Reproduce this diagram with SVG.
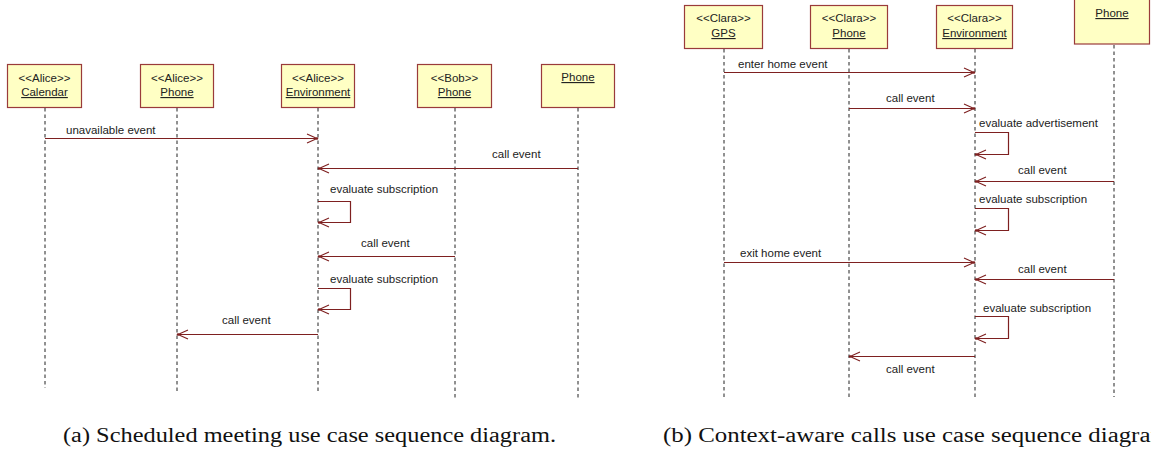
<svg xmlns="http://www.w3.org/2000/svg" width="1151" height="462" viewBox="0 0 1151 462">
<defs>
<style>
.box{fill:#FFFFC4;stroke:#9A3B3B;stroke-width:1.2}
.t{font-family:"Liberation Sans",Arial,sans-serif;font-size:11.5px;fill:#222;text-anchor:middle}
.u{text-decoration:underline}
.lbl{font-family:"Liberation Sans",Arial,sans-serif;font-size:11.5px;fill:#222}
.life{stroke:#222;stroke-width:1;stroke-dasharray:3.5,3;fill:none}
.msg{stroke:#7E2020;stroke-width:1.2;fill:none;marker-end:url(#ah)}
.cap{font-family:"Liberation Serif","Times New Roman",serif;font-size:20px;fill:#111}
</style>
<marker id="ah" viewBox="-11 -6 13 12" markerWidth="13" markerHeight="12" refX="0" refY="0" orient="auto" markerUnits="userSpaceOnUse">
<path d="M-10,-4.5 L0,0 L-10,4.5" fill="none" stroke="#7E2020" stroke-width="1.1"/>
<circle cx="0" cy="0" r="1.2" fill="#7E2020"/>
</marker>
</defs>
<rect width="1151" height="462" fill="#fff"/>

<!-- Left diagram nodes -->
<g id="a-calendar">
<rect class="box" x="7.5" y="64.5" width="74" height="43"/>
<text class="t" x="44.5" y="82">&lt;&lt;Alice&gt;&gt;</text>
<text class="t u" x="44.5" y="96">Calendar</text>
<line class="life" x1="45" y1="108" x2="45" y2="388"/>
</g>
<g id="a-alicephone">
<rect class="box" x="140.5" y="64.5" width="73" height="43"/>
<text class="t" x="177" y="82">&lt;&lt;Alice&gt;&gt;</text>
<text class="t u" x="177" y="96">Phone</text>
<line class="life" x1="177" y1="108" x2="177" y2="393"/>
</g>
<g id="a-environment">
<rect class="box" x="281.5" y="64.5" width="73" height="43"/>
<text class="t" x="318" y="82">&lt;&lt;Alice&gt;&gt;</text>
<text class="t u" x="318" y="96">Environment</text>
<line class="life" x1="318" y1="108" x2="318" y2="393"/>
</g>
<g id="a-bobphone">
<rect class="box" x="417.5" y="64.5" width="74" height="43"/>
<text class="t" x="454.5" y="82">&lt;&lt;Bob&gt;&gt;</text>
<text class="t u" x="454.5" y="96">Phone</text>
<line class="life" x1="455" y1="108" x2="455" y2="398"/>
</g>
<g id="a-phone">
<rect class="box" x="541.5" y="64.5" width="73" height="43"/>
<text class="t u" x="578" y="81">Phone</text>
<line class="life" x1="578" y1="108" x2="578" y2="398"/>
</g>

<!-- Right diagram nodes -->
<g id="b-gps">
<rect class="box" x="684.5" y="5.5" width="78" height="43"/>
<text class="t" x="723.5" y="22">&lt;&lt;Clara&gt;&gt;</text>
<text class="t u" x="723.5" y="37">GPS</text>
<line class="life" x1="724" y1="49" x2="724" y2="397"/>
</g>
<g id="b-clarephone">
<rect class="box" x="810.5" y="5.5" width="77" height="43"/>
<text class="t" x="849" y="22">&lt;&lt;Clara&gt;&gt;</text>
<text class="t u" x="849" y="37">Phone</text>
<line class="life" x1="849" y1="49" x2="849" y2="397"/>
</g>
<g id="b-environment">
<rect class="box" x="936.5" y="5.5" width="76" height="43"/>
<text class="t" x="974.5" y="22">&lt;&lt;Clara&gt;&gt;</text>
<text class="t u" x="974.5" y="37">Environment</text>
<line class="life" x1="975" y1="49" x2="975" y2="397"/>
</g>
<g id="b-phone">
<rect class="box" x="1074.5" y="-2" width="75" height="46"/>
<text class="t u" x="1112" y="17">Phone</text>
<line class="life" x1="1114" y1="45" x2="1114" y2="397"/>
</g>

<!-- Connectors -->
<g id="connectors">
<path class="msg" d="M45,138.5 H317"/>
<text class="lbl" x="66" y="134">unavailable event</text>
<path class="msg" d="M578,168.5 H319"/>
<text class="lbl" x="492" y="158">call event</text>
<text class="lbl" x="330" y="193">evaluate subscription</text>
<path class="msg" d="M318,201.5 H350.5 V222.5 H319"/>
<path class="msg" d="M455,256.5 H319"/>
<text class="lbl" x="361" y="247">call event</text>
<text class="lbl" x="330" y="283">evaluate subscription</text>
<path class="msg" d="M318,288.5 H350.5 V309.5 H319"/>
<path class="msg" d="M318,334.5 H178"/>
<text class="lbl" x="222" y="324">call event</text>

<path class="msg" d="M724,72.5 H974"/>
<text class="lbl" x="738" y="68">enter home event</text>
<path class="msg" d="M849,108.5 H974"/>
<text class="lbl" x="886" y="102">call event</text>
<text class="lbl" x="979" y="127">evaluate advertisement</text>
<path class="msg" d="M975,132.5 H1008.5 V154.5 H976"/>
<path class="msg" d="M1114,181.5 H976"/>
<text class="lbl" x="1018" y="174">call event</text>
<text class="lbl" x="979" y="203">evaluate subscription</text>
<path class="msg" d="M975,208.5 H1008.5 V230.5 H976"/>
<path class="msg" d="M724,262.5 H974"/>
<text class="lbl" x="740" y="257">exit home event</text>
<path class="msg" d="M1114,279.5 H976"/>
<text class="lbl" x="1018" y="273">call event</text>
<text class="lbl" x="983" y="312">evaluate subscription</text>
<path class="msg" d="M975,316.5 H1008.5 V338.5 H976"/>
<path class="msg" d="M975,356.5 H850"/>
<text class="lbl" x="886" y="373">call event</text>
</g>

<!-- Captions -->
<text class="cap" x="63" y="442" textLength="493" lengthAdjust="spacingAndGlyphs">(a) Scheduled meeting use case sequence diagram.</text>
<text class="cap" x="663" y="442" textLength="513" lengthAdjust="spacingAndGlyphs">(b) Context-aware calls use case sequence diagram.</text>
</svg>
